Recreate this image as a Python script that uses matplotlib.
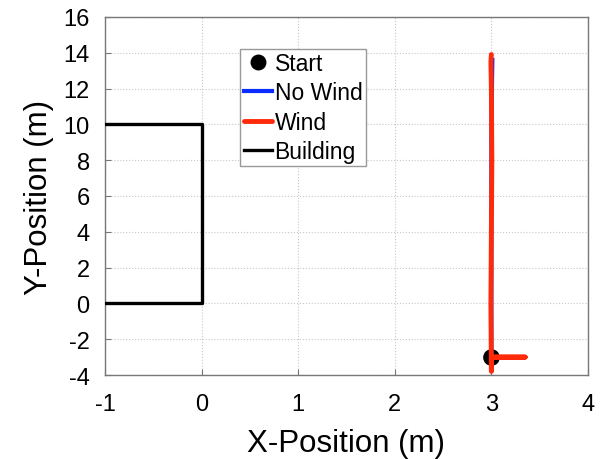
import numpy as np
import matplotlib
matplotlib.use('agg')
import matplotlib.pyplot as plt

plt.rcParams['font.family'] = ['Liberation Sans', 'DejaVu Sans']
plt.rcParams['axes.unicode_minus'] = False

# start point
start_x = [3.0]
start_y = [-3.0]

# no wind trajectory (mostly hidden below the wind one)
nowind_x = [3.0, 3.0, 3.0, 3.01]
nowind_y = [-3.0, 4.0, 10.0, 13.6]

# wind trajectory
wind_x = [3.0, 3.35, 3.0, 3.0, 2.995, 3.0, 3.005, 3.0, 2.995, 3.0]
wind_y = [-3.0, -3.0, -3.0, -3.8, 0.0, 4.0, 8.0, 12.0, 13.5, 13.9]

# building outline
bld_x = [-1, 0, 0, -1]
bld_y = [10, 10, 0, 0]

fig = plt.figure(figsize=(6.02, 4.6), dpi=100, facecolor='w')
ax = fig.add_axes([0.1744, 0.1826, 0.8023, 0.7784])

ax.plot(start_x, start_y, 'o', color='k', markersize=11, label='Start', zorder=3)
ax.plot(nowind_x, nowind_y, color='#0a2cff', lw=3, label='No Wind', zorder=3)
ax.plot(wind_x, wind_y, color='#ff2a0a', lw=3.5, label='Wind', zorder=4, solid_capstyle='round')
ax.plot(bld_x, bld_y, color='k', lw=2.4, label='Building', zorder=3)

ax.set_xlim([-1, 4])
ax.set_ylim([-4, 16])
ax.set_xticks(np.arange(-1, 5, 1))
ax.set_yticks(np.arange(-4, 17, 2))
ax.grid(linestyle=':', color='#c8c8c8', linewidth=0.8)
ax.tick_params(direction='in', length=4, color='#777777', labelsize=17)
ax.tick_params(axis='x', pad=13)
ax.tick_params(axis='y', pad=11)
for s in ax.spines.values():
    s.set_color('#777777')
    s.set_linewidth(1.0)

ax.set_xlabel('X-Position (m)', fontsize=22.5, labelpad=9)
ax.set_ylabel('Y-Position (m)', fontsize=22.5, labelpad=7)

leg = ax.legend(loc='upper left', bbox_to_anchor=(0.28, 0.911), fontsize=16.5,
                handlelength=1.25, handletextpad=0.1, borderpad=0.15,
                labelspacing=0.27, fancybox=False, framealpha=1.0,
                edgecolor='#999999', borderaxespad=0, markerscale=0.95)
leg.get_frame().set_linewidth(1.0)

plt.savefig('out.png', dpi=100)
plt.close('all')
